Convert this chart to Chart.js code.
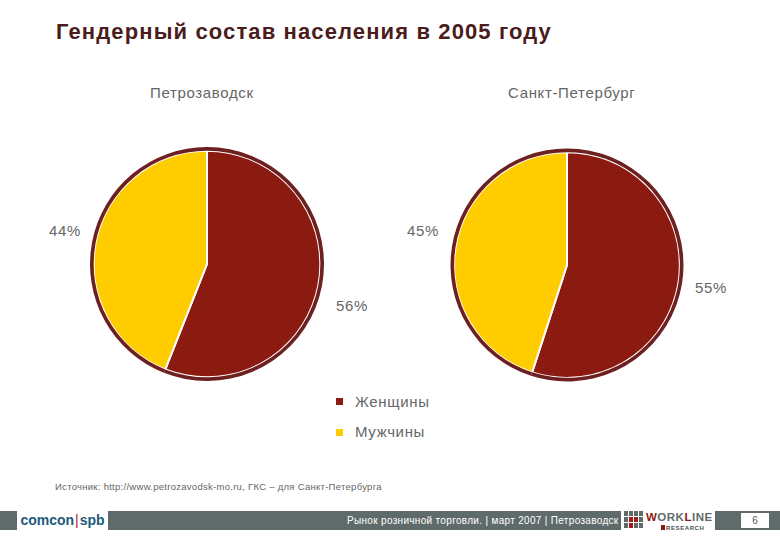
<!DOCTYPE html>
<html lang="ru"><head><meta charset="utf-8">
<script src="https://cdn.jsdelivr.net/npm/chart.js@4"></script>
<style>
html,body{margin:0;padding:0;background:#fff;width:780px;height:540px;overflow:hidden;font-family:"Liberation Sans",Arial,sans-serif}
.t{position:absolute;white-space:nowrap;line-height:1;color:#666}
.c{position:absolute;width:240px;height:240px}
#title{left:56px;top:21px;font-size:22px;font-weight:bold;color:#4a1c1c;letter-spacing:1.12px}
.h,.p,.l{font-size:15px;letter-spacing:.65px}
.sw{position:absolute;width:7px;height:7px}
#src{left:55px;top:482px;font-size:9.5px;letter-spacing:.28px;color:#666}
#bar{position:absolute;left:0;top:511px;width:780px;height:19px;background:#5f6b6b}
#logo{position:absolute;left:17px;top:510px;width:91px;height:21px;background:#fff;font-size:14px;font-weight:bold;color:#1d5a7a;line-height:20px;text-align:center}
#logo i{font-style:normal;color:#b01c2e;font-weight:normal;margin:0 1px}
#foot{left:347px;top:516px;font-size:10px;color:#fff;letter-spacing:.32px}
#wl{position:absolute;left:621px;top:510px;width:94px;height:21px;background:#fff}
#grid{position:absolute;left:624px;top:511px;display:grid;grid-template-columns:repeat(4,4px);grid-auto-rows:5px;gap:1px}
#wlt{left:646px;top:512px;font-size:11.5px;font-weight:bold;color:#5f6b6b;letter-spacing:.5px}
#wlt b{color:#8b1a10}
#wlr{left:666px;top:525px;font-size:6px;color:#4a5252;font-weight:bold;letter-spacing:.6px}
#wls{position:absolute;left:661px;top:525px;width:4px;height:5px;background:#8b1a10}
#pg{position:absolute;left:741px;top:513px;width:28px;height:15px;background:#fff;color:#555;font-size:10px;line-height:15px;text-align:center}
</style></head><body>
<div class="t" id="title"></div>
<div class="t h" id="h0" style="left:150px;top:85px"></div>
<div class="t h" id="h1" style="left:508px;top:85px"></div>
<div class="c" style="left:87.3px;top:143.5px"><canvas id="c0" width="240" height="240"></canvas></div>
<div class="c" style="left:447px;top:144.5px"><canvas id="c1" width="240" height="240"></canvas></div>
<div class="t p" id="p00" style="left:336px;top:298px"></div>
<div class="t p" id="p01" style="left:49px;top:223px"></div>
<div class="t p" id="p10" style="left:695px;top:280px"></div>
<div class="t p" id="p11" style="left:407px;top:223px"></div>
<div class="sw" id="s0" style="left:336px;top:398px"></div>
<div class="t l" id="l0" style="left:355px;top:394px"></div>
<div class="sw" id="s1" style="left:336px;top:429px"></div>
<div class="t l" id="l1" style="left:355px;top:424px"></div>
<div class="t" id="src"></div>
<div id="bar"></div>
<div id="logo">comcon<i>|</i>spb</div>
<div class="t" id="foot"></div>
<div id="wl"></div>
<div id="grid"></div>
<div class="t" id="wlt"></div>
<div id="wls"></div>
<div class="t" id="wlr">RESEARCH</div>
<div id="pg"></div>
<script>
const titleText = "Гендерный состав населения в 2005 году";
const cities = ["Петрозаводск", "Санкт-Петербург"];
const categories = ["Женщины", "Мужчины"];
const petrozavodsk = [56, 44];
const spb = [55, 45];
const colors = ["#8b1a10", "#ffcc00"];
const ringColor = "#6e1f1f";
const sourceText = "Источник: http://www.petrozavodsk-mo.ru, ГКС – для Санкт-Петербурга";
const footerText = "Рынок розничной торговли. | март 2007 | Петрозаводск";
const pageNo = "6";

const byId = id => document.getElementById(id);
byId("title").textContent = titleText;
byId("h0").textContent = cities[0];
byId("h1").textContent = cities[1];
byId("p00").textContent = petrozavodsk[0] + "%";
byId("p01").textContent = petrozavodsk[1] + "%";
byId("p10").textContent = spb[0] + "%";
byId("p11").textContent = spb[1] + "%";
categories.forEach((c, i) => {
  byId("l" + i).textContent = c;
  byId("s" + i).style.background = colors[i];
});
byId("src").textContent = sourceText;
byId("foot").textContent = footerText;
byId("wlt").innerHTML = "<b>W</b>ORK<b>L</b>INE";
byId("pg").textContent = pageNo;
for (let i = 0; i < 12; i++) {
  const cell = document.createElement("div");
  cell.style.background = (i === 9 || i === 6 || i === 5) ? "#a01c1c" : "#5f6b6b";
  byId("grid").appendChild(cell);
}

function pie(id, values, pad) {
  new Chart(byId(id), {
    type: "doughnut",
    data: {
      labels: categories,
      datasets: [
        { data: values, backgroundColor: ringColor, borderWidth: 0, weight: 3.6 },
        { data: values, backgroundColor: colors, borderColor: "#fff", borderWidth: 2, weight: 112 }
      ]
    },
    options: {
      responsive: false, animation: false, cutout: 0,
      layout: { padding: pad },
      plugins: { legend: { display: false }, tooltip: { enabled: false } }
    }
  });
}
pie("c0", petrozavodsk, 3);
pie("c1", spb, 3.5);
</script>
</body></html>
